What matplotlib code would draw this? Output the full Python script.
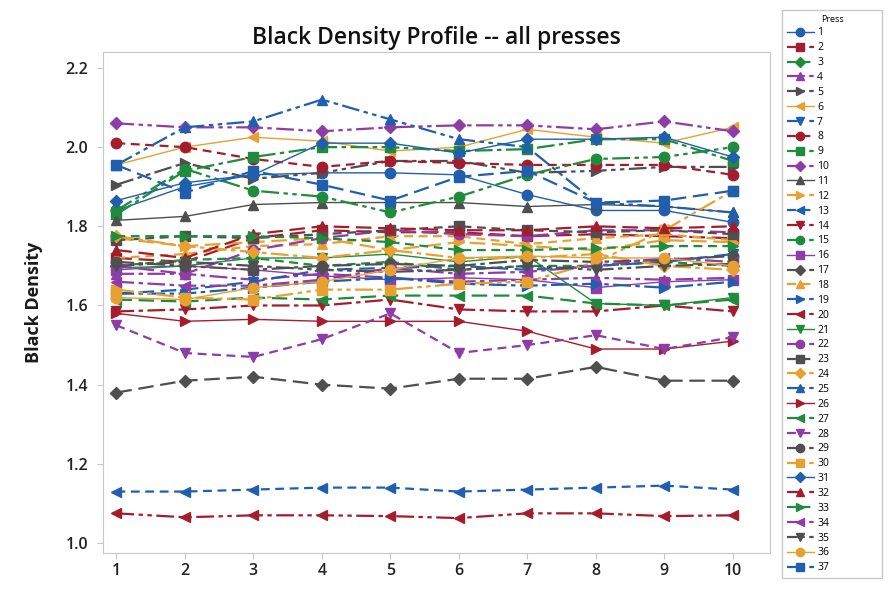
import matplotlib
matplotlib.use('Agg')
import matplotlib.pyplot as plt

plt.rcParams['font.family'] = ['Open Sans', 'DejaVu Sans']

x = [1, 2, 3, 4, 5, 6, 7, 8, 9, 10]

# Black density per press, one list per press
p1 = [1.84, 1.90, 1.93, 1.935, 1.935, 1.93, 1.88, 1.84, 1.84, 1.81]
p2 = [1.72, 1.71, 1.77, 1.79, 1.785, 1.785, 1.775, 1.78, 1.775, 1.77]
p3 = [1.70, 1.715, 1.72, 1.70, 1.71, 1.69, 1.70, 1.70, 1.71, 1.70]
p4 = [1.68, 1.68, 1.665, 1.68, 1.67, 1.66, 1.665, 1.67, 1.665, 1.67]
p5 = [1.905, 1.96, 1.92, 1.935, 1.965, 1.965, 1.935, 1.94, 1.95, 1.95]
p6 = [1.955, 2.0, 2.025, 2.015, 1.99, 2.0, 2.045, 2.025, 2.01, 2.05]
p7 = [1.63, 1.64, 1.66, 1.69, 1.695, 1.70, 1.69, 1.70, 1.71, 1.73]
p8 = [2.01, 2.0, 1.97, 1.95, 1.965, 1.96, 1.955, 1.955, 1.955, 1.93]
p9 = [1.83, 1.94, 1.975, 2.0, 2.0, 1.99, 1.995, 2.02, 2.02, 1.965]
p10 = [2.06, 2.05, 2.05, 2.04, 2.05, 2.055, 2.055, 2.045, 2.065, 2.04]
p11 = [1.815, 1.825, 1.855, 1.86, 1.86, 1.86, 1.85, 1.855, 1.85, 1.835]
p12 = [1.77, 1.75, 1.76, 1.77, 1.74, 1.76, 1.75, 1.74, 1.765, 1.76]
p13 = [1.13, 1.13, 1.135, 1.14, 1.14, 1.13, 1.135, 1.14, 1.145, 1.135]
p14 = [1.585, 1.59, 1.60, 1.60, 1.615, 1.59, 1.585, 1.585, 1.60, 1.585]
p15 = [1.84, 1.945, 1.89, 1.875, 1.835, 1.875, 1.93, 1.97, 1.975, 2.0]
p16 = [1.69, 1.70, 1.69, 1.675, 1.665, 1.67, 1.665, 1.645, 1.66, 1.665]
p17 = [1.38, 1.41, 1.42, 1.40, 1.39, 1.415, 1.415, 1.445, 1.41, 1.41]
p18 = [1.72, 1.73, 1.75, 1.755, 1.775, 1.775, 1.755, 1.77, 1.78, 1.765]
p19 = [1.63, 1.63, 1.645, 1.66, 1.67, 1.655, 1.65, 1.655, 1.645, 1.66]
p20 = [1.075, 1.065, 1.07, 1.07, 1.068, 1.063, 1.075, 1.075, 1.068, 1.07]
p21 = [1.695, 1.70, 1.72, 1.72, 1.73, 1.71, 1.725, 1.605, 1.60, 1.62]
p22 = [1.70, 1.68, 1.74, 1.77, 1.79, 1.78, 1.775, 1.79, 1.79, 1.785]
p23 = [1.765, 1.775, 1.77, 1.78, 1.79, 1.80, 1.79, 1.785, 1.79, 1.78]
p24 = [1.775, 1.75, 1.735, 1.72, 1.74, 1.72, 1.72, 1.73, 1.70, 1.69]
p25 = [1.955, 2.05, 2.065, 2.12, 2.07, 2.02, 2.0, 1.86, 1.85, 1.835]
p26 = [1.58, 1.56, 1.565, 1.56, 1.56, 1.56, 1.535, 1.49, 1.49, 1.51]
p27 = [1.615, 1.61, 1.62, 1.615, 1.625, 1.625, 1.625, 1.605, 1.60, 1.615]
p28 = [1.55, 1.48, 1.47, 1.515, 1.58, 1.48, 1.50, 1.525, 1.49, 1.52]
p29 = [1.71, 1.70, 1.69, 1.70, 1.705, 1.70, 1.715, 1.71, 1.715, 1.725]
p30 = [1.64, 1.62, 1.615, 1.64, 1.64, 1.655, 1.66, 1.71, 1.79, 1.89]
p31 = [1.865, 1.91, 1.93, 2.01, 2.01, 1.985, 2.02, 2.02, 2.025, 1.975]
p32 = [1.74, 1.72, 1.78, 1.80, 1.795, 1.79, 1.79, 1.80, 1.795, 1.80]
p33 = [1.775, 1.775, 1.775, 1.77, 1.76, 1.74, 1.74, 1.745, 1.75, 1.75]
p34 = [1.66, 1.65, 1.65, 1.665, 1.695, 1.68, 1.685, 1.70, 1.72, 1.71]
p35 = [1.70, 1.71, 1.70, 1.69, 1.685, 1.69, 1.70, 1.69, 1.70, 1.705]
p36 = [1.62, 1.615, 1.645, 1.66, 1.69, 1.72, 1.725, 1.72, 1.72, 1.70]
p37 = [1.955, 1.885, 1.94, 1.905, 1.865, 1.925, 1.94, 1.86, 1.865, 1.89]

presses = [p1, p2, p3, p4, p5, p6, p7, p8, p9, p10, p11, p12, p13, p14, p15,
           p16, p17, p18, p19, p20, p21, p22, p23, p24, p25, p26, p27, p28,
           p29, p30, p31, p32, p33, p34, p35, p36, p37]

# Minitab-like group styles: 6 colours, 7 symbols, 5 line types
colors = ['#1f5fae', '#a51d2d', '#1e8c3c', '#8e3ca8', '#4f4f4f', '#e8a030']
markers = ['o', 's', 'D', '^', '>', '<', 'v']
dashes = [None, (7, 3), (4, 2.5), (8, 2, 2, 2), (8, 2, 2, 2, 2, 2)]

fig = plt.figure(figsize=(8.91, 5.92), dpi=100)
ax = fig.add_axes([0.116, 0.066, 0.748, 0.846])

for i, vals in enumerate(presses):
    d = dashes[i % 5]
    m = markers[i % 7]
    ln, = ax.plot(x, vals, color=colors[i % 6], marker=m,
                  markersize=7.5 if m != 'D' else 6.5,
                  linewidth=1.0 if d is None else 1.6, label=str(i + 1))
    if d is not None:
        ln.set_dashes(d)

ax.set_xlim(0.81, 10.54)
ax.set_ylim(0.975, 2.24)
ax.set_xticks(x)
ax.set_yticks([1.0, 1.2, 1.4, 1.6, 1.8, 2.0, 2.2])
ax.set_yticklabels(['1.0', '1.2', '1.4', '1.6', '1.8', '2.0', '2.2'])
for s in ax.spines.values():
    s.set_color('#c8c8c8')
ax.tick_params(colors='#c8c8c8', labelcolor='#222222', labelsize=11.5, length=4)
ax.tick_params(axis='y', pad=7)
for lbl in ax.get_xticklabels() + ax.get_yticklabels():
    lbl.set_fontweight('semibold')
ax.set_ylabel('Black Density', fontsize=13, fontweight='bold', color='#1a1a1a', labelpad=16)
ax.set_title('Black Density Profile -- all presses', fontsize=16.5,
             fontweight='semibold', color='#111111', pad=6)

leg = fig.legend(loc='upper left', bbox_to_anchor=(0.872, 0.012, 0.124, 0.980),
                 mode='expand', title='Press',
                 fontsize=7.5, title_fontsize=6.5, handlelength=2.6, labelspacing=0.37,
                 borderpad=0.45, handletextpad=0.3, markerscale=0.8,
                 fancybox=False, edgecolor='#c8c8c8', framealpha=1)
leg.get_frame().set_linewidth(1.0)

fig.savefig('out.png', dpi=100)
